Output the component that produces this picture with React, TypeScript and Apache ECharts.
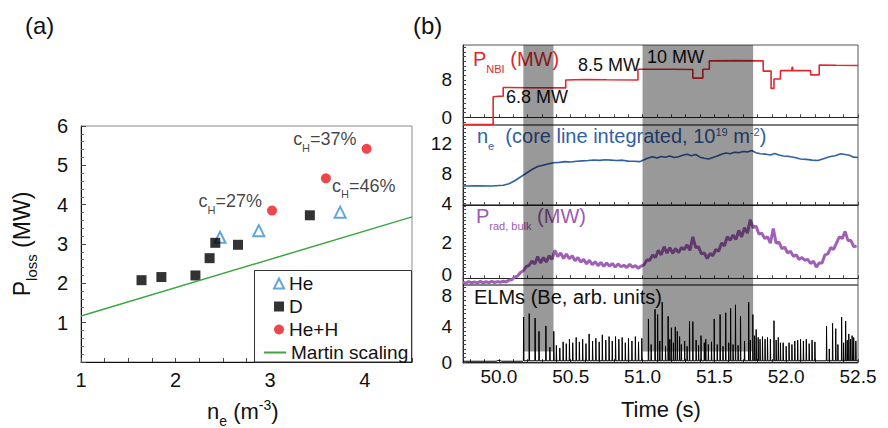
import React, { useEffect, useRef } from 'react';
import * as echarts from 'echarts';

const FONT = "'Liberation Sans', Arial, Helvetica, sans-serif";

// ---------- panel (a) ----------
const heDensity = [2.47, 2.88, 3.74];
const hePloss = [3.17, 3.34, 3.81];
const dDensity = [1.64, 1.85, 2.21, 2.36, 2.42, 2.66, 3.42];
const dPloss = [2.08, 2.16, 2.2, 2.64, 3.03, 2.98, 3.73];
const hhDensity = [3.02, 3.59, 4.02];
const hhPloss = [3.85, 4.67, 5.42];
const hhNote = ['27%', '46%', '37%'];
const martinDensity = [1, 4.5];
const martinPloss = [1.17, 3.69];
const aXLabels = [1, 2, 3, 4];
const aYLabels = [1, 2, 3, 4, 5, 6];

// ---------- panel (b) ----------
const timeLabels = [50.0, 50.5, 51.0, 51.5, 52.0, 52.5];
const bandStart = [50.17, 51.0];
const bandEnd = [50.38, 51.77];
const nbiLabels = [0, 8];
const neLabels = [4, 8, 12];
const pradLabels = [0, 2];
const elmLabels = [0, 4, 8];

const nbi: number[][] = [
  [49.75, -1.55], [49.96, -1.55], [49.96, 4.4], [50.0, 4.5], [50.03, 4.5], [50.03, 6.4],
  [50.2, 6.35], [50.465, 6.3], [50.465, 8.0], [50.6, 8.1], [50.75, 8.05], [50.968, 8.0],
  [50.968, 10.3], [51.2, 10.3], [51.35, 10.25], [51.35, 8.4], [51.42, 8.4], [51.42, 10.3],
  [51.465, 10.3], [51.465, 12.1], [51.65, 12.15], [51.84, 12.1], [51.84, 9.9], [51.895, 9.9],
  [51.895, 6.2], [51.915, 6.2], [51.915, 8.2], [51.96, 8.2], [51.96, 10.0], [52.04, 10.0],
  [52.04, 10.7], [52.046, 10.7], [52.046, 10.0], [52.17, 10.0], [52.17, 9.1], [52.23, 9.1],
  [52.23, 11.2], [52.35, 11.15], [52.5, 11.1],
];

const ne: number[][] = [
  [49.75, 6.3], [49.85, 6.32], [49.95, 6.3], [50.03, 6.4], [50.07, 6.6], [50.11, 7.0],
  [50.15, 7.5], [50.19, 8.0], [50.23, 8.5], [50.27, 8.9], [50.3, 9.05], [50.34, 9.25],
  [50.38, 9.4], [50.42, 9.45], [50.46, 9.55], [50.5, 9.5], [50.54, 9.6], [50.58, 9.65],
  [50.62, 9.7], [50.66, 9.78], [50.7, 9.72], [50.74, 9.8], [50.78, 9.75], [50.82, 9.7],
  [50.86, 9.75], [50.9, 9.62], [50.94, 9.6], [50.98, 9.55], [51.01, 9.8], [51.04, 10.05],
  [51.07, 10.2], [51.1, 10.05], [51.13, 10.25], [51.16, 10.15], [51.19, 10.3], [51.22, 10.1],
  [51.25, 10.2], [51.28, 10.4], [51.31, 10.55], [51.34, 10.35], [51.37, 10.5], [51.4, 10.15],
  [51.43, 10.0], [51.46, 9.9], [51.49, 10.1], [51.52, 10.3], [51.55, 10.55], [51.58, 10.7],
  [51.61, 10.6], [51.64, 10.8], [51.67, 10.75], [51.7, 10.9], [51.73, 10.85], [51.76, 11.05],
  [51.79, 10.75], [51.82, 10.6], [51.86, 10.55], [51.89, 10.45], [51.92, 10.65], [51.95, 10.45],
  [51.98, 10.3], [52.02, 10.25], [52.06, 10.1], [52.1, 9.9], [52.14, 9.85], [52.18, 9.75],
  [52.22, 9.7], [52.26, 9.95], [52.3, 10.2], [52.34, 10.35], [52.38, 10.6], [52.41, 10.5],
  [52.44, 10.4], [52.47, 10.15], [52.5, 10.1],
];

const pradStart = 49.75;
const pradStep = 0.02;
const pradValue = [
  -0.22, -0.27, -0.18, -0.25, -0.2, -0.26, -0.17, -0.25, -0.19, -0.24,
  -0.17, -0.23, -0.18, -0.22, -0.16, -0.2, -0.1, -0.08, 0.08, 0.12,
  0.32, 0.42, 0.65, 0.72, 0.95, 0.8, 1.2, 0.85, 1.15, 0.9,
  1.25, 1.05, 1.55, 1.2, 1.4, 1.1, 1.35, 1.08, 1.25, 0.98,
  1.15, 0.9, 1.05, 0.8, 1.0, 0.75, 0.92, 0.7, 0.88, 0.66,
  0.85, 0.68, 0.82, 0.62, 0.8, 0.64, 0.72, 0.6, 0.78, 0.62,
  0.7, 0.56, 0.68, 0.75, 1.02, 1.0, 1.3, 1.15, 1.55, 1.3,
  1.75, 1.4, 1.7, 1.38, 1.65, 1.42, 1.7, 1.6, 1.85, 1.55,
  2.3, 1.7, 1.75, 1.35, 1.4, 1.1, 1.38, 1.25, 1.6, 1.5,
  1.95, 1.8, 2.3, 2.1, 2.4, 2.15, 2.65, 2.3, 2.8, 2.5,
  3.25, 2.8, 2.9, 2.45, 2.5, 2.2, 2.3, 1.95, 2.75, 1.95,
  2.0, 1.65, 1.72, 1.4, 1.5, 1.22, 1.3, 1.05, 1.15, 1.0,
  1.05, 0.82, 0.95, 0.62, 0.85, 0.85, 1.3, 1.35, 1.7, 1.6,
  1.95, 2.3, 2.2, 2.6, 2.1, 2.1, 1.75, 1.8,
];

const elmBase = 0.15;
const elmQuiet: number[][] = [
  [49.75, 0.1], [49.98, 0.1], [50.0, 0.2], [50.02, 0.1], [50.166, 0.1],
];
const elmSpikes: number[][] = [
  [50.172, 5.1], [50.211, 5.5], [50.252, 5.0], [50.279, 3.5], [50.327, 4.1], [50.355, 1.7], [50.382, 3.5],
  [50.4, 1.9], [50.424, 1.6], [50.447, 2.3], [50.469, 2.1], [50.491, 2.6], [50.514, 2.2], [50.538, 2.8],
  [50.56, 2.3], [50.583, 2.6], [50.606, 2.1], [50.628, 3.2], [50.652, 2.4], [50.675, 2.7], [50.698, 2.3],
  [50.72, 3.1], [50.744, 2.5], [50.767, 2.9], [50.789, 2.4], [50.812, 2.9], [50.835, 2.6], [50.858, 2.8],
  [50.88, 2.2], [50.902, 2.7], [50.926, 2.4], [50.95, 2.9], [50.972, 2.3], [50.995, 2.7],
  [51.041, 4.9], [51.06, 2.0], [51.087, 6.0], [51.105, 5.4], [51.12, 2.4], [51.137, 6.8], [51.16, 1.8],
  [51.178, 5.2], [51.19, 2.6], [51.201, 3.9], [51.215, 2.2], [51.228, 4.0], [51.242, 3.5], [51.258, 2.9],
  [51.27, 2.0], [51.293, 2.4], [51.31, 1.8], [51.327, 4.65], [51.35, 4.6], [51.373, 2.5], [51.39, 1.9],
  [51.407, 3.0], [51.43, 2.2], [51.44, 2.6], [51.458, 2.0], [51.48, 2.3], [51.499, 4.9],
  [51.52, 2.0], [51.54, 5.4], [51.56, 1.8], [51.579, 5.6], [51.6, 2.2], [51.613, 6.1], [51.63, 2.0],
  [51.647, 6.5], [51.665, 1.9], [51.682, 5.2], [51.71, 2.4], [51.739, 6.8], [51.75, 2.5], [51.768, 5.4],
  [51.78, 3.0], [51.791, 3.7], [51.805, 2.8], [51.818, 2.6], [51.835, 2.9], [51.853, 2.6],
  [51.87, 2.8], [51.89, 2.6], [51.915, 4.7], [51.93, 2.5], [51.945, 2.8], [51.96, 2.2],
  [51.979, 2.2], [52.0, 1.8], [52.02, 2.2], [52.04, 2.0], [52.06, 2.4], [52.08, 2.5], [52.1, 2.6],
  [52.12, 2.4], [52.14, 2.6], [52.16, 2.1], [52.18, 2.5], [52.2, 2.3], [52.281, 4.1], [52.3, 1.5],
  [52.323, 4.4], [52.345, 3.8], [52.36, 2.0], [52.386, 5.1], [52.4, 2.2], [52.414, 4.65], [52.425, 2.5],
  [52.436, 3.2], [52.447, 2.6], [52.459, 3.0], [52.47, 2.8], [52.485, 2.4],
];

function range(a: number, b: number, step: number): number[] {
  const out: number[] = [];
  for (let v = a; v <= b + 1e-9; v += step) out.push(Math.round(v * 1000) / 1000);
  return out;
}

function rich(color: string, main: number, small: number) {
  const base = { color, fontFamily: FONT, fontWeight: 'normal', verticalAlign: 'bottom' };
  const lift = Math.round(main * 0.25);
  return {
    m: { ...base, fontSize: main, padding: [0, 0, lift, 0] },
    s: { ...base, fontSize: small },
    u: { ...base, fontSize: small, padding: [0, 0, lift + Math.round(main * 0.45), 0] },
  };
}

function textBox(left: number, top: number, text: string, color: string, main: number, small: number) {
  return {
    left, top, padding: 0, z: 1, text,
    textStyle: { rich: rich(color, main, small), fontWeight: 'normal', fontFamily: FONT, fontSize: main, color },
  };
}

const RED = '#e0282d';
const BLUE = '#3160a8';
const PURPLE = '#9c5ab3';

export default function App() {
  const ref = useRef<HTMLDivElement>(null);
  useEffect(() => {
    if (!ref.current) return;
    const chart = echarts.init(ref.current, undefined, { renderer: 'svg' });

    const pradData = pradValue.map((v, i) => [Math.round((pradStart + i * pradStep) * 1000) / 1000, v]);
    const spikes = [...elmSpikes].sort((a, b) => a[0] - b[0]);
    const elmData: number[][] = [...elmQuiet];
    for (const [t, h] of spikes) {
      elmData.push([t - 0.0015, elmBase], [t, h], [t + 0.0025, elmBase]);
    }
    elmData.push([52.5, elmBase]);

    const rightLeft = 463;
    const rightWidth = 395;
    const panelTops = [45, 125, 205, 285];
    const panelHeights = [80, 80, 80, 78];

    const grids: any[] = [
      { left: 81, top: 126, width: 331, height: 236, show: true, borderColor: '#8a8a8a', borderWidth: 1 },
    ];
    panelTops.forEach((t, i) => {
      grids.push({ left: rightLeft, top: t, width: rightWidth, height: panelHeights[i], show: true, borderColor: '#555', borderWidth: 1 });
    });

    const tickLabel = { fontSize: 19, color: '#111', fontFamily: FONT };
    const tickRich = {
      t: { fontSize: 19, color: '#111', fontFamily: FONT },
      up: { fontSize: 19, color: '#111', fontFamily: FONT, padding: [0, 0, 8, 0] },
      dn: { fontSize: 19, color: '#111', fontFamily: FONT, padding: [8, 0, 0, 0] },
    };

    const xAxes: any[] = [
      {
        type: 'value', gridIndex: 0, min: 1, max: 4.5,
        axisLine: { show: true, lineStyle: { color: '#111' } },
        axisTick: { show: true, inside: true, length: 4, customValues: range(1, 4.5, 0.25), lineStyle: { color: '#444' } },
        axisLabel: { ...tickLabel, fontSize: 20, margin: 8, customValues: aXLabels },
        splitLine: { show: false },
      },
    ];
    for (let i = 1; i <= 4; i++) {
      xAxes.push({
        type: 'value', gridIndex: i, min: 49.75, max: 52.5,
        axisLine: { show: true, lineStyle: { color: '#222' } },
        axisTick: { show: true, inside: true, length: 3, customValues: range(49.8, 52.5, 0.1), lineStyle: { color: '#444' } },
        axisLabel: { ...tickLabel, show: i === 4, margin: 4, customValues: timeLabels, formatter: (v: number) => v.toFixed(1) },
        splitLine: { show: false },
      });
    }

    const yDefs = [
      { min: -1.65, max: 15.5, labels: nbiLabels, ticks: range(-1, 15, 1), upAt: null, dnAt: null },
      { min: 3.77, max: 14.44, labels: neLabels, ticks: range(4, 14, 0.5), upAt: null, dnAt: null },
      { min: -0.37, max: 4.06, labels: pradLabels, ticks: range(-0.2, 4, 0.2), upAt: 0, dnAt: null },
      { min: -0.1, max: 8.75, labels: elmLabels, ticks: range(0, 8.5, 0.5), upAt: null, dnAt: 8 },
    ];
    const yAxes: any[] = [
      {
        type: 'value', gridIndex: 0, min: 0, max: 6, interval: 1,
        axisLine: { show: true, lineStyle: { color: '#111' } },
        axisTick: { show: true, inside: true, length: 5, lineStyle: { color: '#444' } },
        minorTick: { show: true, splitNumber: 5, length: 3, lineStyle: { color: '#666' } },
        axisLabel: { ...tickLabel, fontSize: 20, margin: 13, customValues: aYLabels },
        splitLine: { show: false },
        name: '{m|P}{s|loss}{m| (MW)}',
        nameLocation: 'middle', nameRotate: 90, nameGap: 42,
        nameTextStyle: { rich: rich('#111', 23, 15), fontFamily: FONT },
      },
    ];
    yDefs.forEach((d, k) => {
      yAxes.push({
        type: 'value', gridIndex: k + 1, min: d.min, max: d.max,
        axisLine: { show: true, lineStyle: { color: '#222' } },
        axisTick: { show: true, inside: true, length: 3, customValues: d.ticks, lineStyle: { color: '#444' } },
        axisLabel: {
          ...tickLabel, margin: 11, customValues: d.labels,
          formatter: (v: number) => {
            const key = v === d.upAt ? 'up' : v === d.dnAt ? 'dn' : 't';
            return `{${key}|${v}}`;
          },
          rich: tickRich,
        },
        splitLine: { show: false },
      });
    });

    const bandSeries = (gi: number, fromValue: number | null) => ({
      type: 'custom', xAxisIndex: gi, yAxisIndex: gi, z: 10, silent: true,
      data: bandStart.map((s, k) => [s, bandEnd[k]]),
      renderItem: (params: any, api: any) => {
        const cs = params.coordSys;
        const x0 = api.coord([api.value(0), 0])[0];
        const x1 = api.coord([api.value(1), 0])[0];
        const yTop = cs.y;
        const yBot = fromValue === null ? cs.y + cs.height : api.coord([api.value(0), fromValue])[1];
        return {
          type: 'rect',
          shape: { x: x0, y: yTop, width: x1 - x0, height: yBot - yTop },
          style: { fill: 'rgba(0,0,0,0.4)' },
        };
      },
    });

    const labelPos: any[] = [
      { position: 'left', offset: [0, -7] },
      { position: 'right', offset: [-4, 10] },
      { position: 'left', offset: [0, -7] },
    ];

    const legendText = { fontSize: 19, color: '#111', fontFamily: FONT };

    const option: any = {
      animation: false,
      backgroundColor: '#fff',
      grid: grids,
      xAxis: xAxes,
      yAxis: yAxes,
      graphic: {
        elements: [
          {
            type: 'rect', z: 3, silent: true,
            shape: { x: 254.5, y: 270.5, width: 157, height: 91.5 },
            style: { fill: '#fff', stroke: '#333', lineWidth: 1 },
          },
        ],
      },
      legend: [
        {
          data: ['He', 'D', 'He+H'],
          orient: 'vertical', left: 273, top: 274, z: 6,
          padding: 0, itemGap: 4, itemWidth: 10, itemHeight: 10,
          textStyle: legendText, selectedMode: false,
        },
        {
          data: [{ name: 'Martin scaling', icon: 'rect' }],
          orient: 'vertical', left: 264, top: 343, z: 6,
          padding: 0, itemWidth: 22, itemHeight: 2,
          textStyle: legendText, selectedMode: false,
        },
      ],
      title: [
        textBox(25, 13, '{m|(a)}', '#111', 24, 14),
        textBox(413, 13, '{m|(b)}', '#111', 24, 14),
        textBox(207, 398, '{m|n}{s|e}{m| (m}{u|-3}{m|)}', '#111', 22, 14),
        textBox(621, 398, '{m|Time (s)}', '#111', 22, 14),
        textBox(473, 49, '{m|P}{s|NBI}{m| (MW)}', RED, 20, 11),
        textBox(506, 88, '{m|6.8 MW}', '#111', 18, 11),
        textBox(578, 56, '{m|8.5 MW}', '#111', 18, 11),
        textBox(647, 48, '{m|10 MW}', '#111', 18, 11),
        textBox(477, 126, '{m|n}{s|e}{m|  (core line integrated, 10}{u|19}{m| m}{u|-2}{m|)}', BLUE, 20, 11),
        textBox(476, 206, '{m|P}{s|rad, bulk}{m| (MW)}', PURPLE, 20, 11),
        textBox(474, 287, '{m|ELMs (Be, arb. units)}', '#111', 20, 11),
      ],
      series: [
        {
          name: 'He', type: 'scatter', xAxisIndex: 0, yAxisIndex: 0,
          symbol: 'emptyTriangle', symbolSize: 11,
          itemStyle: { color: '#3b8fd0', borderWidth: 1.5 },
          data: heDensity.map((x, i) => [x, hePloss[i]]),
        },
        {
          name: 'D', type: 'scatter', xAxisIndex: 0, yAxisIndex: 0,
          symbol: 'rect', symbolSize: 10, itemStyle: { color: '#000' },
          data: dDensity.map((x, i) => [x, dPloss[i]]),
        },
        {
          name: 'He+H', type: 'scatter', xAxisIndex: 0, yAxisIndex: 0,
          symbol: 'circle', symbolSize: 10, itemStyle: { color: '#e8191f' },
          data: hhDensity.map((x, i) => ({
            value: [x, hhPloss[i]],
            label: {
              show: true, ...labelPos[i], distance: 5,
              formatter: `{m|c}{s|H}{m|=${hhNote[i]}}`,
              rich: rich('#111', 18, 11),
            },
          })),
        },
        {
          name: 'Martin scaling', type: 'line', xAxisIndex: 0, yAxisIndex: 0,
          symbol: 'none', showSymbol: false, lineStyle: { color: '#3fa541', width: 1.5 },
          itemStyle: { color: '#3fa541' },
          data: martinDensity.map((x, i) => [x, martinPloss[i]]),
        },
        {
          type: 'line', xAxisIndex: 1, yAxisIndex: 1, symbol: 'none', z: 3,
          lineStyle: { color: RED, width: 1.6 }, data: nbi,
        },
        {
          type: 'line', xAxisIndex: 2, yAxisIndex: 2, symbol: 'none', z: 3,
          lineStyle: { color: BLUE, width: 1.6 }, data: ne,
        },
        {
          type: 'line', xAxisIndex: 3, yAxisIndex: 3, symbol: 'none', z: 3,
          lineStyle: { color: '#a060b8', width: 3 }, data: pradData,
        },
        {
          type: 'line', xAxisIndex: 4, yAxisIndex: 4, symbol: 'none', z: 3,
          lineStyle: { color: '#000', width: 1 }, data: elmData,
        },
        bandSeries(1, null),
        bandSeries(2, null),
        bandSeries(3, null),
        bandSeries(4, 1.2),
      ],
    };
    chart.setOption(option);
    return () => chart.dispose();
  }, []);

  return (
    <div
      ref={ref}
      style={{ position: 'fixed', left: 0, top: 0, width: 888, height: 428, background: '#fff' }}
    />
  );
}
